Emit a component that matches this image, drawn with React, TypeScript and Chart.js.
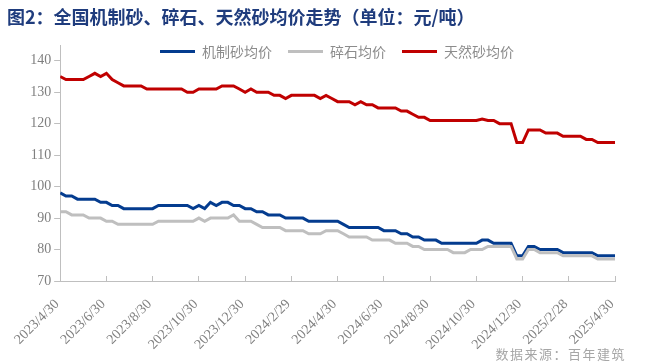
import React, { useEffect, useRef } from 'react';
import { Chart, registerables } from 'chart.js';

Chart.register(...registerables);

const tickLabels = [
  '2023/4/30', '2023/6/30', '2023/8/30', '2023/10/30', '2023/12/30', '2024/2/29',
  '2024/4/30', '2024/6/30', '2024/8/30', '2024/10/30', '2024/12/30', '2025/2/28', '2025/4/30',
];

const seriesNames = ['机制砂均价', '碎石均价', '天然砂均价'];
const seriesColors = ['#043c8f', '#bfbfbf', '#c00000'];

// weekly samples, 2023/4/30 .. 2025/4/30
const machineSand = [
  98, 97, 97, 96, 96,
  96, 96, 95, 95, 94,
  94, 93, 93, 93, 93,
  93, 93, 94, 94, 94,
  94, 94, 94, 93, 94,
  93, 95, 94, 95, 95,
  94, 94, 93, 93, 92,
  92, 91, 91, 91, 90,
  90, 90, 90, 89, 89,
  89, 89, 89, 89, 88,
  87, 87, 87, 87, 87,
  87, 86, 86, 86, 85,
  85, 84, 84, 83, 83,
  83, 82, 82, 82, 82,
  82, 82, 82, 83, 83,
  82, 82, 82, 82, 78,
  78, 81, 81, 80, 80,
  80, 80, 79, 79, 79,
  79, 79, 79, 78, 78,
  78, 78,
];

const crushedStone = [
  92, 92, 91, 91, 91,
  90, 90, 90, 89, 89,
  88, 88, 88, 88, 88,
  88, 88, 89, 89, 89,
  89, 89, 89, 89, 90,
  89, 90, 90, 90, 90,
  91, 89, 89, 89, 88,
  87, 87, 87, 87, 86,
  86, 86, 86, 85, 85,
  85, 86, 86, 86, 85,
  84, 84, 84, 84, 83,
  83, 83, 83, 82, 82,
  82, 81, 81, 80, 80,
  80, 80, 80, 79, 79,
  79, 80, 80, 80, 81,
  81, 81, 81, 81, 77,
  77, 80, 80, 79, 79,
  79, 79, 78, 78, 78,
  78, 78, 78, 77, 77,
  77, 77,
];

const naturalSand = [
  135, 134, 134, 134, 134,
  135, 136, 135, 136, 134,
  133, 132, 132, 132, 132,
  131, 131, 131, 131, 131,
  131, 131, 130, 130, 131,
  131, 131, 131, 132, 132,
  132, 131, 130, 131, 130,
  130, 130, 129, 129, 128,
  129, 129, 129, 129, 129,
  128, 129, 128, 127, 127,
  127, 126, 127, 126, 126,
  125, 125, 125, 125, 124,
  124, 123, 122, 122, 121,
  121, 121, 121, 121, 121,
  121, 121, 121, 121.5, 121,
  121, 120, 120, 120, 114,
  114, 118, 118, 118, 117,
  117, 117, 116, 116, 116,
  116, 115, 115, 114, 114,
  114, 114,
];

const seriesValues = [machineSand, crushedStone, naturalSand];

const yMin = 70;
const yMax = 145;
const yStep = 10;

export default function App() {
  const canvasRef = useRef<HTMLCanvasElement | null>(null);

  useEffect(() => {
    const canvas = canvasRef.current;
    if (!canvas) return;
    const lastIndex = machineSand.length - 1;
    const perLabel = lastIndex / (tickLabels.length - 1);
    const chart = new Chart(canvas, {
      type: 'line',
      data: {
        datasets: seriesValues.map((vals, k) => ({
          label: seriesNames[k],
          data: vals.map((y, i) => ({ x: i, y })),
          borderColor: seriesColors[k],
          backgroundColor: seriesColors[k],
          borderWidth: 3,
          pointRadius: 0,
          tension: 0,
          fill: false,
          order: seriesValues.length - k,
        })),
      },
      options: {
        responsive: false,
        animation: false,
        layout: { padding: { left: 0, right: 12, top: 45, bottom: 0 } },
        plugins: {
          legend: { display: false },
          tooltip: { enabled: false },
          title: { display: false },
        },
        scales: {
          x: {
            type: 'linear',
            min: 0,
            max: lastIndex,
            afterFit: (s: any) => {
              s.height = 82;
            },
            border: { color: '#bfbfbf', width: 1 },
            grid: { drawOnChartArea: false, drawTicks: true, tickLength: -5, color: '#bfbfbf' },
            ticks: {
              stepSize: perLabel,
              autoSkip: false,
              maxRotation: 45,
              minRotation: 45,
              padding: 20,
              labelOffset: -3,
              color: '#7f7f7f',
              font: { family: '"Liberation Serif", serif', size: 14 },
              callback: (v: any) => {
                const idx = Math.round(Number(v) / perLabel);
                return tickLabels[idx] ?? '';
              },
            },
          },
          y: {
            min: yMin,
            max: yMax,
            afterFit: (s: any) => {
              s.width = 51;
            },
            border: { color: '#bfbfbf', width: 1 },
            grid: { drawOnChartArea: false, drawTicks: true, tickLength: 6, color: '#bfbfbf' },
            ticks: {
              stepSize: yStep,
              includeBounds: false,
              padding: 3,
              color: '#7f7f7f',
              font: { family: '"Liberation Serif", serif', size: 14 },
            },
          },
        },
      },
    });
    return () => chart.destroy();
  }, []);

  return (
    <div style={{ position: 'absolute', left: 0, top: 0, width: 647, height: 363, background: '#fff', overflow: 'hidden' }}>
      <canvas ref={canvasRef} width={647} height={363} style={{ position: 'absolute', left: 0, top: 0, display: 'block' }} />
      <div
        style={{
          position: 'absolute',
          left: 7,
          top: 5,
          fontFamily: '"Noto Sans CJK SC", sans-serif',
          fontWeight: 700,
          fontSize: 18,
          lineHeight: '22px',
          color: '#1f3c7d',
          whiteSpace: 'nowrap',
        }}
      >
        图2：全国机制砂、碎石、天然砂均价走势（单位：元/吨）
      </div>
      <div
        style={{
          position: 'absolute',
          left: 160,
          top: 43,
          display: 'flex',
          gap: 16,
          fontFamily: '"Noto Sans CJK SC", sans-serif',
          fontSize: 14,
          lineHeight: '16px',
          color: '#8c8c8c',
          whiteSpace: 'nowrap',
        }}
      >
        {seriesNames.map((name, k) => (
          <div key={name} style={{ display: 'flex', alignItems: 'center' }}>
            <span style={{ display: 'inline-block', width: 35, height: 3, background: seriesColors[k], marginRight: 7 }} />
            <span>{name}</span>
          </div>
        ))}
      </div>
      <div
        style={{
          position: 'absolute',
          right: 21,
          top: 345,
          fontFamily: '"Noto Sans CJK SC", sans-serif',
          fontSize: 13,
          lineHeight: '17px',
          letterSpacing: 1.5,
          color: '#a6a6a6',
          whiteSpace: 'nowrap',
        }}
      >
        数据来源：百年建筑
      </div>
    </div>
  );
}
